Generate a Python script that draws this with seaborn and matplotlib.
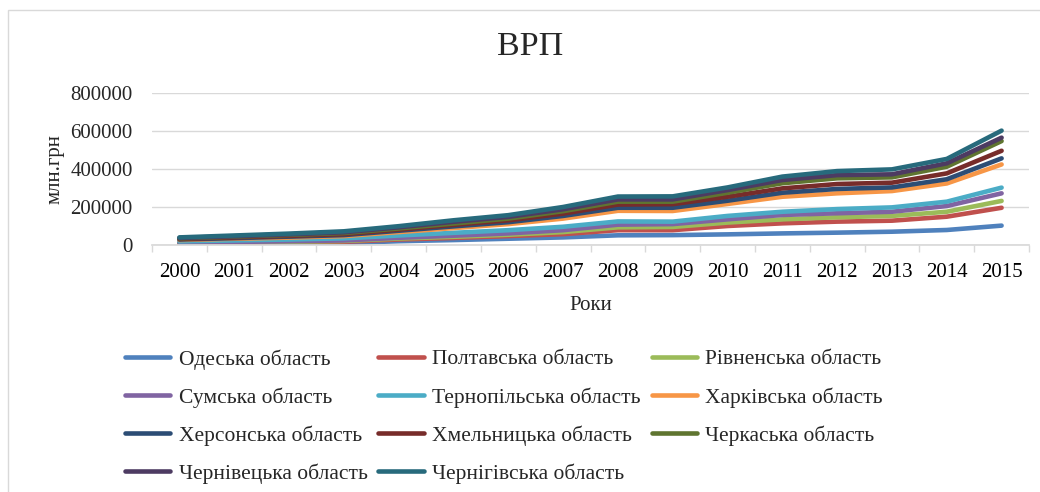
import numpy as np
import pandas as pd
import matplotlib.pyplot as plt
import matplotlib.patches as mpatches
import seaborn as sns

# Роки
years = list(range(2000, 2016))

# Області (порядок серій як у діаграмі з накопиченням)
regions = ['Одеська область', 'Полтавська область', 'Рівненська область',
           'Сумська область', 'Тернопільська область', 'Харківська область',
           'Херсонська область', 'Хмельницька область', 'Черкаська область',
           'Чернівецька область', 'Чернігівська область']

# ВРП по областях, млн.грн (оцінка з графіка)
odeska = [5000, 6000, 8000, 10000, 20000, 26000, 33000, 40000, 51000, 52000, 56000, 61000, 65000, 70000, 79000, 102000]
poltavska = [4000, 5000, 6000, 7000, 9000, 11000, 14000, 17000, 27000, 26000, 44000, 53000, 58000, 58000, 70000, 94000]
rivnenska = [2000, 3000, 3000, 4000, 5000, 6000, 7000, 11000, 15000, 17000, 18000, 21000, 23000, 25000, 26000, 36000]
sumska = [2000, 2000, 3000, 3000, 4000, 6000, 7000, 10000, 14000, 15000, 17000, 23000, 21000, 22000, 30000, 40000]
ternopilska = [6000, 8000, 9000, 11000, 12000, 15000, 17000, 18000, 17000, 13000, 18000, 17000, 22000, 23000, 23000, 30000]
kharkivska = [7000, 9000, 10000, 12000, 18000, 25000, 32000, 43000, 56000, 56000, 63000, 79000, 83000, 86000, 96000, 122000]
khersonska = [3000, 3000, 5000, 5000, 7000, 9000, 10000, 14000, 16000, 17000, 17000, 21000, 23000, 19000, 22000, 32000]
khmelnytska = [3000, 4000, 4000, 5000, 6000, 8000, 10000, 12000, 17000, 19000, 21000, 23000, 26000, 25000, 31000, 40000]
cherkaska = [3000, 4000, 5000, 6000, 6000, 7000, 9000, 13000, 15000, 13000, 21000, 27000, 30000, 28000, 35000, 51000]
chernivetska = [2000, 2000, 3000, 4000, 6000, 9000, 9000, 10000, 12000, 12000, 14000, 17000, 17000, 16000, 18000, 18000]
chernihivska = [3000, 4000, 4000, 5000, 6000, 8000, 9000, 12000, 15000, 16000, 14000, 18000, 21000, 26000, 23000, 37000]

colors = ['#4F81BD', '#C0504D', '#9BBB59', '#8064A2', '#4BACC6', '#F79646',
          '#2C4D75', '#772C2A', '#5F7530', '#4D3B62', '#276A7C']

sns.set_theme(style='white')
plt.rcParams['font.family'] = ['Liberation Serif', 'DejaVu Serif']

# Лінійна діаграма з накопиченням: кожна серія лежить на попередніх
wide = pd.DataFrame(
    [odeska, poltavska, rivnenska, sumska, ternopilska, kharkivska,
     khersonska, khmelnytska, cherkaska, chernivetska, chernihivska],
    index=regions, columns=years).T
stacked = wide.cumsum(axis=1)
long = stacked.reset_index(names='Рік').melt(id_vars='Рік', var_name='Область', value_name='ВРП')

fig = plt.figure(figsize=(10.4, 4.92), dpi=100)
ax = fig.add_axes([152 / 1040, 1 - 245 / 492, (1029 - 152) / 1040, (245 - 93) / 492])

sns.lineplot(data=long, x='Рік', y='ВРП', hue='Область', hue_order=regions,
             palette=colors, linewidth=3.3, solid_capstyle='round', ax=ax)

grid_c = '#D9D9D9'
ax.set_xlim(1999.5, 2015.5)
ax.set_ylim(0, 800000)
ax.set_xticks(years)
ax.set_xticklabels([str(y) for y in years])
ax.set_xticks(np.arange(1999.5, 2016, 1), minor=True)
ax.set_yticks(range(0, 800001, 200000))
ax.tick_params(axis='x', which='major', length=0, pad=13, labelsize=15, colors='black')
ax.tick_params(axis='x', which='minor', length=5, color=grid_c, width=1, bottom=True)
ax.tick_params(axis='y', length=0, pad=14, labelsize=15)
ax.yaxis.grid(True, color=grid_c, linewidth=1)
ax.xaxis.grid(False)
for side in ['top', 'right', 'left']:
    ax.spines[side].set_visible(False)
ax.spines['bottom'].set_color(grid_c)
ax.set_xlabel('Роки', fontsize=15, labelpad=10)
ax.set_ylabel('млн.грн', fontsize=15, labelpad=4)

fig.text(530 / 1040, 1 - 47 / 492, 'ВРП', fontsize=24.5, ha='center', va='center')

# Легенда: три колонки, заповнення по рядках
handles, labels = ax.get_legend_handles_labels()
ax.get_legend().remove()
for h in handles:
    h.set_linewidth(3.3)
order = [0, 3, 6, 9, 1, 4, 7, 10, 2, 5, 8]
fig.legend([handles[i] for i in order], [labels[i] for i in order],
           ncol=3, loc='upper left', bbox_to_anchor=(125 / 1040, 1 - 349 / 492),
           frameon=False, fontsize=15.5, handlelength=2.1, handletextpad=0.4,
           columnspacing=0.5, labelspacing=0.82, borderpad=0, borderaxespad=0)

# Рамка області діаграми
fig.add_artist(mpatches.Rectangle((8 / 1040, -0.1), 1.2, 1.1 - 10 / 492,
                                  transform=fig.transFigure, fill=False,
                                  edgecolor=grid_c, linewidth=1))

fig.savefig('out.png', dpi=100)
